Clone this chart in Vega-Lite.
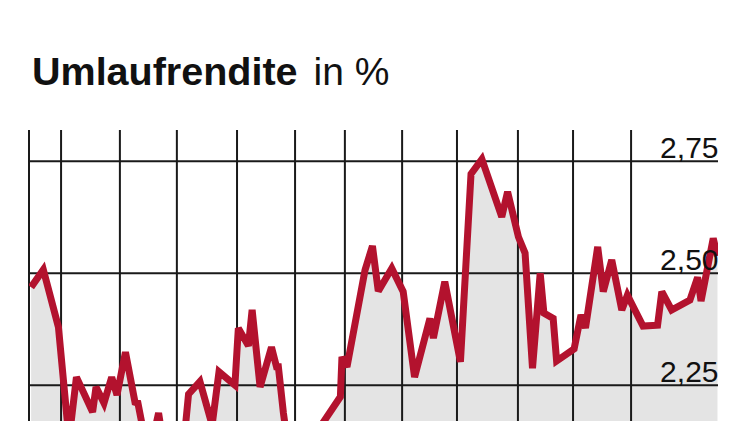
{
  "$schema": "https://vega.github.io/schema/vega-lite/v6.json",
  "width": 689,
  "height": 291,
  "autosize": {"type": "none"},
  "padding": {"left": 29, "top": 130, "right": 32, "bottom": 0},
  "background": "white",
  "config": {"view": {"stroke": null}},
  "title": {
    "text": "Umlaufrendite",
    "anchor": "start",
    "frame": "group",
    "font": "Liberation Sans",
    "fontSize": 39.5,
    "fontWeight": "bold",
    "color": "#111111",
    "baseline": "alphabetic",
    "offset": 0,
    "dx": 3,
    "dy": 71
  },
  "datasets": {
    "rendite": [
      {"tag": 0.8, "rendite": 2.469},
      {"tag": 5.4, "rendite": 2.508},
      {"tag": 11.1, "rendite": 2.380},
      {"tag": 15.1, "rendite": 2.128},
      {"tag": 17.9, "rendite": 2.268},
      {"tag": 24.0, "rendite": 2.190},
      {"tag": 25.3, "rendite": 2.246},
      {"tag": 28.3, "rendite": 2.210},
      {"tag": 31.2, "rendite": 2.268},
      {"tag": 33.2, "rendite": 2.228},
      {"tag": 36.4, "rendite": 2.324},
      {"tag": 40.0, "rendite": 2.212},
      {"tag": 41.1, "rendite": 2.210},
      {"tag": 43.8, "rendite": 2.128},
      {"tag": 47.5, "rendite": 2.150},
      {"tag": 48.9, "rendite": 2.188},
      {"tag": 50.2, "rendite": 2.138},
      {"tag": 55.1, "rendite": 2.117},
      {"tag": 58.9, "rendite": 2.150},
      {"tag": 60.2, "rendite": 2.230},
      {"tag": 64.5, "rendite": 2.258},
      {"tag": 69.1, "rendite": 2.161},
      {"tag": 71.7, "rendite": 2.280},
      {"tag": 77.7, "rendite": 2.250},
      {"tag": 79.0, "rendite": 2.377},
      {"tag": 82.8, "rendite": 2.338},
      {"tag": 84.2, "rendite": 2.418},
      {"tag": 87.2, "rendite": 2.246},
      {"tag": 91.5, "rendite": 2.335},
      {"tag": 93.4, "rendite": 2.291},
      {"tag": 94.1, "rendite": 2.291},
      {"tag": 96.0, "rendite": 2.188},
      {"tag": 97.4, "rendite": 2.128},
      {"tag": 102.3, "rendite": 2.084},
      {"tag": 107.9, "rendite": 2.117},
      {"tag": 109.1, "rendite": 2.150},
      {"tag": 117.5, "rendite": 2.224},
      {"tag": 118.1, "rendite": 2.313},
      {"tag": 120.0, "rendite": 2.291},
      {"tag": 126.8, "rendite": 2.507},
      {"tag": 129.6, "rendite": 2.561},
      {"tag": 131.8, "rendite": 2.460},
      {"tag": 136.9, "rendite": 2.511},
      {"tag": 141.2, "rendite": 2.459},
      {"tag": 145.5, "rendite": 2.268},
      {"tag": 151.3, "rendite": 2.399},
      {"tag": 152.6, "rendite": 2.355},
      {"tag": 156.9, "rendite": 2.481},
      {"tag": 162.8, "rendite": 2.302},
      {"tag": 166.8, "rendite": 2.722},
      {"tag": 170.9, "rendite": 2.755},
      {"tag": 178.4, "rendite": 2.626},
      {"tag": 180.6, "rendite": 2.682},
      {"tag": 184.7, "rendite": 2.581},
      {"tag": 187.2, "rendite": 2.545},
      {"tag": 190.0, "rendite": 2.288},
      {"tag": 192.9, "rendite": 2.500},
      {"tag": 194.3, "rendite": 2.411},
      {"tag": 197.8, "rendite": 2.399},
      {"tag": 199.1, "rendite": 2.304},
      {"tag": 205.7, "rendite": 2.331},
      {"tag": 208.3, "rendite": 2.407},
      {"tag": 210.0, "rendite": 2.378},
      {"tag": 214.6, "rendite": 2.559},
      {"tag": 216.7, "rendite": 2.459},
      {"tag": 219.9, "rendite": 2.530},
      {"tag": 223.7, "rendite": 2.418},
      {"tag": 225.8, "rendite": 2.451},
      {"tag": 231.7, "rendite": 2.382},
      {"tag": 237.2, "rendite": 2.384},
      {"tag": 238.8, "rendite": 2.459},
      {"tag": 242.5, "rendite": 2.418},
      {"tag": 249.4, "rendite": 2.440},
      {"tag": 252.3, "rendite": 2.491},
      {"tag": 253.6, "rendite": 2.438},
      {"tag": 258.2, "rendite": 2.578},
      {"tag": 259.8, "rendite": 2.539}
    ],
    "monate": [
      {"tag": 0}, {"tag": 12.1}, {"tag": 34.3}, {"tag": 55.8}, {"tag": 78.5},
      {"tag": 100.4}, {"tag": 119.2}, {"tag": 140.8}, {"tag": 161.5},
      {"tag": 184.5}, {"tag": 205.3}, {"tag": 227.2}
    ],
    "linien": [
      {"rendite": 2.25}, {"rendite": 2.5}, {"rendite": 2.75}
    ]
  },
  "layer": [
    {
      "data": {"name": "rendite"},
      "mark": {"type": "area", "color": "#e4e4e4", "clip": true},
      "encoding": {
        "x": {"field": "tag", "type": "quantitative", "scale": {"domain": [0, 260], "nice": false, "zero": false}, "axis": null},
        "y": {
          "field": "rendite",
          "type": "quantitative",
          "scale": {"domain": [2.17, 2.82], "nice": false, "zero": false},
          "axis": {
            "orient": "right",
            "values": [2.25, 2.5, 2.75],
            "labelExpr": "replace(format(datum.value, '.2f'), '.', ',')",
            "grid": false,
            "ticks": false,
            "domain": false,
            "labelAlign": "right",
            "labelBaseline": "alphabetic",
            "labelPadding": 0,
            "labelOffset": -4,
            "labelFont": "Liberation Sans",
            "labelFontWeight": "normal",
            "labelFontSize": 30,
            "labelColor": "#111111",
            "zindex": 1,
            "title": "in %",
            "titleAngle": 0,
            "titleAlign": "left",
            "titleBaseline": "alphabetic",
            "titleX": -405,
            "titleY": -46,
            "titleFont": "Liberation Sans",
            "titleFontWeight": "normal",
            "titleFontSize": 39,
            "titleColor": "#111111"
          }
        },
        "y2": {"datum": 2.0}
      }
    },
    {
      "data": {"name": "monate"},
      "mark": {"type": "rule", "color": "#1a1a1a", "strokeWidth": 2},
      "encoding": {
        "x": {"field": "tag", "type": "quantitative", "scale": {"domain": [0, 260], "nice": false, "zero": false}, "axis": null}
      }
    },
    {
      "data": {"name": "linien"},
      "mark": {"type": "rule", "color": "#1a1a1a", "strokeWidth": 2},
      "encoding": {
        "y": {"field": "rendite", "type": "quantitative", "scale": {"domain": [2.17, 2.82], "nice": false, "zero": false}}
      }
    },
    {
      "data": {"name": "rendite"},
      "mark": {"type": "line", "color": "#b3122e", "strokeWidth": 7, "strokeJoin": "miter", "strokeMiterLimit": 3, "clip": true},
      "encoding": {
        "x": {"field": "tag", "type": "quantitative", "scale": {"domain": [0, 260], "nice": false, "zero": false}, "axis": null},
        "y": {"field": "rendite", "type": "quantitative", "scale": {"domain": [2.17, 2.82], "nice": false, "zero": false}}
      }
    }
  ]
}
